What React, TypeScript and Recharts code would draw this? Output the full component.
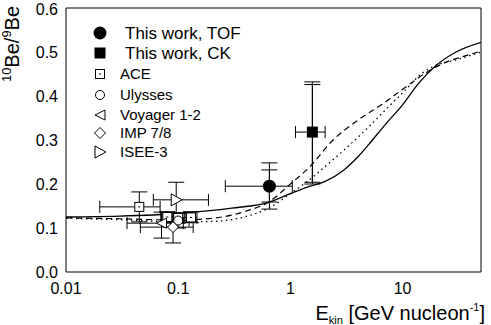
import React from "react";
import { ComposedChart, XAxis, YAxis, Line, Scatter, ErrorBar, Legend } from "recharts";

const FONT = "'Liberation Sans', Arial, Helvetica, sans-serif";

const xMajor = [0.01, 0.1, 1, 10];
const xMinor = [
    0.02, 0.03, 0.04, 0.05, 0.06, 0.07, 0.08, 0.09,
    0.2, 0.3, 0.4, 0.5, 0.6, 0.7, 0.8, 0.9,
    2, 3, 4, 5, 6, 7, 8, 9,
    20, 30, 40,
];
const yMajor = [0, 0.1, 0.2, 0.3, 0.4, 0.5, 0.6];
const yMinor = [0.05, 0.15, 0.25, 0.35, 0.45, 0.55];

// model curves: [E, ratio]
const solidCurve = [
    [0.01, 0.125], [0.03, 0.127], [0.1, 0.133], [0.3, 0.145], [0.65, 0.159], [1, 0.178],
    [1.5, 0.195], [2, 0.205], [3, 0.232], [4, 0.262], [5, 0.29], [7, 0.335], [10, 0.38],
    [14, 0.43], [20, 0.47], [30, 0.5], [50, 0.522],
];
const dashedCurve = [
    [0.01, 0.123], [0.03, 0.121], [0.1, 0.118], [0.2, 0.122], [0.4, 0.138], [0.65, 0.16],
    [1, 0.2], [1.5, 0.24], [2.4, 0.3], [4, 0.345], [7, 0.386], [11, 0.423], [18, 0.46],
    [25, 0.478], [35, 0.49], [50, 0.502],
];
const dottedCurve = [
    [0.01, 0.122], [0.03, 0.119], [0.1, 0.114], [0.2, 0.115], [0.4, 0.126], [0.65, 0.146],
    [1, 0.178], [1.57, 0.215], [2, 0.238], [3, 0.277], [5, 0.33], [7, 0.368], [10, 0.407],
    [15, 0.452], [20, 0.47], [30, 0.482], [50, 0.5],
];

// measurements: [E, ratio, E low, E high, ratio low, ratio high]
const tofRows = [[0.65, 0.195, 0.263, 1.04, 0.143, 0.248]];
const tofStat = [[0.159, 0.232]];
const ckRows = [[1.57, 0.318, 1.11, 2.04, 0.2, 0.432]];
const ckStat = [[0.204, 0.426]];
const aceRows = [
    [0.045, 0.148, 0.02, 0.069, 0.114, 0.182],
    [0.08, 0.125, 0.07, 0.092, 0.113, 0.137],
    [0.1, 0.123, 0.09, 0.113, 0.112, 0.134],
    [0.13, 0.124, 0.115, 0.147, 0.112, 0.137],
];
const ulyssesRows = [[0.1, 0.117, 0.085, 0.125, 0.1, 0.134]];
const voyagerRows = [[0.071, 0.111, 0.035, 0.111, 0.077, 0.136]];
const impRows = [[0.09, 0.102, 0.046, 0.136, 0.066, 0.134]];
const iseeRows = [[0.096, 0.164, 0.06, 0.186, 0.124, 0.204]];

const legendItems = [
    { kind: "circleF", label: "This work, TOF", big: true },
    { kind: "squareF", label: "This work, CK", big: true },
    { kind: "square", label: "ACE" },
    { kind: "circle", label: "Ulysses" },
    { kind: "triL", label: "Voyager 1-2" },
    { kind: "diamond", label: "IMP 7/8" },
    { kind: "triR", label: "ISEE-3" },
];

const toCurve = (pts: number[][]) => pts.map(([e, r]) => ({ e, r }));
const toPoints = (rows: number[][], stat?: number[][]) =>
    rows.map(([e, r, el, eh, rl, rh], i) => ({
        e, r,
        ex: [e - el, eh - e],
        ey: [r - rl, rh - r],
        es: stat ? [r - stat[i][0], stat[i][1] - r] : [0, 0],
    }));

function Marker({ kind, cx, cy }: { kind: string; cx: number; cy: number }) {
    const s = { stroke: "#000", strokeWidth: 1, fill: "#fff" };
    switch (kind) {
        case "circleF": return <circle cx={cx} cy={cy} r={6.5} fill="#000" />;
        case "squareF": return <rect x={cx - 5.5} y={cy - 5.5} width={11} height={11} fill="#000" />;
        case "square": return (
            <g>
                <rect x={cx - 4.5} y={cy - 4.5} width={9} height={9} {...s} />
                <line x1={cx - 1} x2={cx + 1} y1={cy} y2={cy} stroke="#000" />
            </g>
        );
        case "circle": return <circle cx={cx} cy={cy} r={4.5} {...s} />;
        case "triL": return <polygon points={`${cx - 5},${cy} ${cx + 5},${cy - 5} ${cx + 5},${cy + 5}`} {...s} />;
        case "diamond": return <polygon points={`${cx},${cy - 5.5} ${cx + 5.5},${cy} ${cx},${cy + 5.5} ${cx - 5.5},${cy}`} {...s} />;
        case "triR": return <polygon points={`${cx + 6},${cy} ${cx - 5},${cy - 6} ${cx - 5},${cy + 6}`} {...s} />;
        default: return null;
    }
}

const shapeOf = (kind: string) => (p: any) => <Marker kind={kind} cx={p.cx} cy={p.cy} />;

const renderLegend = () => (
    <svg width={175} height={145} style={{ overflow: "visible" }}>
        {legendItems.map((it, i) => {
            const y = [13, 33, 54, 75, 95, 113, 132][i];
            return (
                <g key={it.label}>
                    <Marker kind={it.kind} cx={12} cy={y} />
                    <text x={it.big ? 37 : 32} y={y + (it.big ? 6 : 5)} fontSize={it.big ? 17 : 15} fill="#000" fontFamily={FONT}>
                        {it.label}
                    </text>
                </g>
            );
        })}
    </svg>
);

const XTitle = (props: any) => {
    const vb = props.viewBox || { x: 66, y: 272, width: 415, height: 53 };
    return (
        <text x={vb.x + vb.width + 4} y={vb.y + 48} textAnchor="end" fontSize={20} fill="#000" fontFamily={FONT}>
            E<tspan fontSize={11} dy={4}>kin</tspan>
            <tspan dy={-4}> [GeV nucleon</tspan>
            <tspan fontSize={11} dy={-9}>-1</tspan>
            <tspan dy={9}>]</tspan>
        </text>
    );
};

const YTitle = () => {
    const cx = 19;
    const cy = 44;
    return (
        <text x={cx} y={cy} transform={`rotate(-90, ${cx}, ${cy})`} textAnchor="middle" fontSize={20} fill="#000" fontFamily={FONT}>
            <tspan fontSize={13} dy={-8}>10</tspan>
            <tspan dy={8}>Be/</tspan>
            <tspan fontSize={13} dy={-8}>9</tspan>
            <tspan dy={8}>Be</tspan>
        </text>
    );
};

const xCommon = { type: "number" as const, scale: "log" as const, domain: [0.01, 50], allowDataOverflow: true, dataKey: "e" };
const yCommon = { type: "number" as const, domain: [0, 0.6], allowDataOverflow: true, dataKey: "r" };
const axisStroke = { stroke: "#000", strokeWidth: 1 };
const THIN = 0.01;

export default function App() {
    const scatters = [
        { id: "tof", kind: "circleF", rows: toPoints(tofRows, tofStat), stat: true },
        { id: "ck", kind: "squareF", rows: toPoints(ckRows, ckStat), stat: true },
        { id: "ace", kind: "square", rows: toPoints(aceRows) },
        { id: "uly", kind: "circle", rows: toPoints(ulyssesRows) },
        { id: "voy", kind: "triL", rows: toPoints(voyagerRows) },
        { id: "imp", kind: "diamond", rows: toPoints(impRows) },
        { id: "isee", kind: "triR", rows: toPoints(iseeRows) },
    ];

    return (
        <div style={{ position: "absolute", left: 0, top: 0, fontFamily: FONT }}>
            <ComposedChart width={491} height={325} margin={{ top: 8, right: 10, bottom: 0, left: 0 }}>
                {/* labelled axes */}
                <XAxis xAxisId="x" {...xCommon} ticks={xMajor} height={53} tickSize={0} tickMargin={11}
                    axisLine={false} tickLine={false} tick={{ fill: "#000", fontSize: 16 }}
                    tickFormatter={(v) => String(v)} label={<XTitle />} />
                <YAxis yAxisId="y" {...yCommon} ticks={yMajor} width={66} tickSize={0} tickMargin={8}
                    axisLine={false} tickLine={false} tick={{ fill: "#000", fontSize: 16 }}
                    tickFormatter={(v) => Number(v).toFixed(1)} label={<YTitle />} />

                {/* frame and inward ticks */}
                <XAxis xAxisId="xb" {...xCommon} ticks={xMajor} mirror height={THIN} tickSize={7} tick={false} axisLine={axisStroke} tickLine={axisStroke} />
                <XAxis xAxisId="xbm" {...xCommon} ticks={xMinor} mirror height={THIN} tickSize={4} tick={false} axisLine={false} tickLine={axisStroke} />
                <XAxis xAxisId="xt" {...xCommon} ticks={xMajor} orientation="top" mirror height={THIN} tickSize={7} tick={false} axisLine={axisStroke} tickLine={axisStroke} />
                <XAxis xAxisId="xtm" {...xCommon} ticks={xMinor} orientation="top" mirror height={THIN} tickSize={4} tick={false} axisLine={false} tickLine={axisStroke} />
                <YAxis yAxisId="yl" {...yCommon} ticks={yMajor} mirror width={THIN} tickSize={7} tick={false} axisLine={axisStroke} tickLine={axisStroke} />
                <YAxis yAxisId="ylm" {...yCommon} ticks={yMinor} mirror width={THIN} tickSize={4} tick={false} axisLine={false} tickLine={axisStroke} />
                <YAxis yAxisId="yr" {...yCommon} ticks={yMajor} orientation="right" mirror width={THIN} tickSize={7} tick={false} axisLine={axisStroke} tickLine={axisStroke} />
                <YAxis yAxisId="yrm" {...yCommon} ticks={yMinor} orientation="right" mirror width={THIN} tickSize={4} tick={false} axisLine={false} tickLine={axisStroke} />

                <Legend layout="vertical" align="center" verticalAlign="middle" content={renderLegend}
                    wrapperStyle={{ left: 88, top: 20, width: 175, height: 145 }} />

                <Line xAxisId="x" yAxisId="y" data={toCurve(solidCurve)} dataKey="r" type="monotone" stroke="#000" strokeWidth={1.3} dot={false} isAnimationActive={false} legendType="none" />
                <Line xAxisId="x" yAxisId="y" data={toCurve(dashedCurve)} dataKey="r" type="monotone" stroke="#000" strokeWidth={1.2} strokeDasharray="6 4" dot={false} isAnimationActive={false} legendType="none" />
                <Line xAxisId="x" yAxisId="y" data={toCurve(dottedCurve)} dataKey="r" type="monotone" stroke="#000" strokeWidth={1.3} strokeDasharray="1.5 3.5" dot={false} isAnimationActive={false} legendType="none" />

                {scatters.map((s) => (
                    <Scatter key={s.id} name={s.id} xAxisId="x" yAxisId="y" data={s.rows} dataKey="r"
                        shape={shapeOf(s.kind)} isAnimationActive={false} legendType="none">
                        <ErrorBar dataKey="ex" direction="x" width={6} stroke="#000" strokeWidth={1} isAnimationActive={false} />
                        <ErrorBar dataKey="ey" direction="y" width={8} stroke="#000" strokeWidth={1} isAnimationActive={false} />
                        {s.stat && <ErrorBar dataKey="es" direction="y" width={8} stroke="#000" strokeWidth={1} isAnimationActive={false} />}
                    </Scatter>
                ))}
            </ComposedChart>
        </div>
    );
}
